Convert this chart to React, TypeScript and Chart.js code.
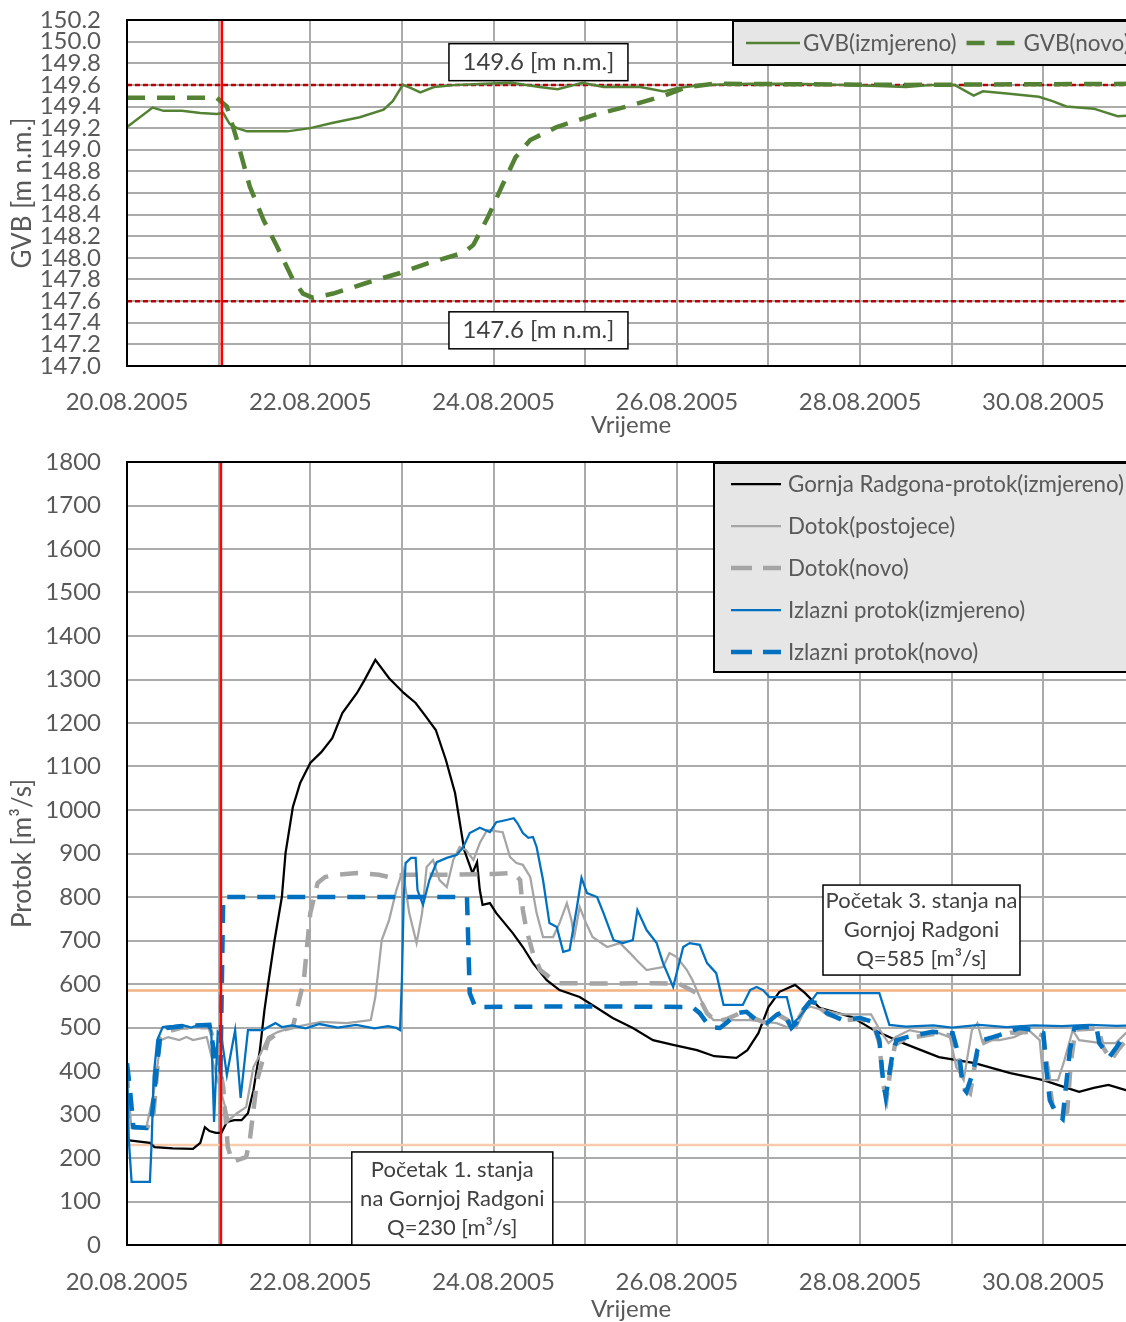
import React, { useEffect, useRef } from 'react';
import { Chart, registerables } from 'chart.js';

Chart.register(...registerables);

const FONT = 'Lato';
const TICK_COLOR = '#595959';
const NOTE_COLOR = '#404040';
const GRID_COLOR = '#ABABAB';

// ---------- labels ----------
const dateLabels = ['20.08.2005', '22.08.2005', '24.08.2005', '26.08.2005', '28.08.2005', '30.08.2005'];
const xTitle = 'Vrijeme';
const gvbTitle = 'GVB [m n.m.]';
const flowTitle = 'Protok [m³/s]';

// ---------- reference values ----------
const eventDay = 1.035; // red vertical marker (days after 20.08.2005)
const gvbLimits = [149.6, 147.6];
const gvbLimitNotes = ['149.6 [m n.m.]', '147.6 [m n.m.]'];
const stateFlows = [585, 230];
const stateNote1 = ['Početak 1. stanja', 'na Gornjoj Radgoni', 'Q=230 [m³/s]'];
const stateNote3 = ['Početak 3. stanja na', 'Gornjoj Radgoni', 'Q=585 [m³/s]'];

// ---------- top chart: GVB ----------
const gvbMeasDays = [0, 0.28, 0.4, 0.6, 0.8, 0.98, 1.05, 1.12, 1.2, 1.31, 1.5, 1.75, 2.0, 2.25, 2.54, 2.8, 2.9, 3.01, 3.1, 3.2, 3.35, 3.6, 3.9, 4.2, 4.5, 4.7, 4.97, 5.2, 5.6, 5.86, 6.0, 6.3, 6.8, 7.3, 7.8, 8.2, 8.5, 8.8, 9.03, 9.24, 9.34, 9.6, 9.95, 10.1, 10.25, 10.55, 10.81, 11.0];
const gvbMeasVals = [149.21, 149.39, 149.36, 149.36, 149.34, 149.33, 149.34, 149.24, 149.2, 149.17, 149.17, 149.17, 149.2, 149.25, 149.3, 149.37, 149.45, 149.6, 149.57, 149.53, 149.58, 149.6, 149.61, 149.62, 149.58, 149.56, 149.62, 149.58, 149.58, 149.54, 149.57, 149.6, 149.61, 149.61, 149.6, 149.59, 149.58, 149.6, 149.6, 149.5, 149.54, 149.52, 149.49, 149.45, 149.4, 149.38, 149.31, 149.32];

const gvbNewDays = [0, 0.98, 1.09, 1.2, 1.34, 1.49, 1.64, 1.81, 1.92, 2.03, 2.25, 2.62, 2.98, 3.28, 3.68, 3.78, 3.94, 4.09, 4.24, 4.4, 4.69, 5.09, 5.5, 5.86, 6.11, 6.4, 8.5, 11.0];
const gvbNewVals = [149.48, 149.48, 149.4, 149.09, 148.66, 148.35, 148.1, 147.8, 147.67, 147.63, 147.67, 147.77, 147.86, 147.95, 148.05, 148.12, 148.38, 148.66, 148.93, 149.09, 149.21, 149.32, 149.41, 149.5, 149.58, 149.61, 149.6, 149.61];

// ---------- bottom chart: flows ----------
const radgonaDays = [0, 0.25, 0.3, 0.5, 0.72, 0.8, 0.85, 0.9, 0.97, 1.03, 1.09, 1.17, 1.25, 1.32, 1.38, 1.45, 1.5, 1.54, 1.61, 1.69, 1.73, 1.81, 1.89, 2.0, 2.12, 2.24, 2.35, 2.51, 2.59, 2.71, 2.86, 3.02, 3.15, 3.25, 3.37, 3.48, 3.58, 3.68, 3.77, 3.82, 3.85, 3.88, 3.96, 4.03, 4.21, 4.32, 4.43, 4.58, 4.72, 4.94, 5.13, 5.3, 5.52, 5.74, 5.96, 6.22, 6.41, 6.65, 6.77, 6.89, 7.0, 7.12, 7.29, 7.4, 7.56, 7.76, 7.91, 8.15, 8.47, 8.86, 9.25, 9.64, 10.0, 10.23, 10.39, 10.55, 10.71, 10.9, 11.0];
const radgonaVals = [241, 235, 225, 222, 221, 235, 271, 262, 258, 258, 283, 287, 287, 303, 356, 448, 540, 600, 700, 800, 901, 1007, 1062, 1108, 1133, 1165, 1223, 1269, 1298, 1345, 1303, 1269, 1246, 1218, 1184, 1115, 1039, 908, 855, 880, 816, 782, 786, 763, 717, 685, 648, 609, 586, 570, 545, 522, 499, 471, 460, 448, 434, 430, 448, 487, 547, 582, 598, 579, 545, 533, 524, 494, 464, 432, 418, 395, 379, 363, 352, 361, 368, 356, 352];

const inflowDays = [0, 0.05, 0.21, 0.29, 0.37, 0.45, 0.57, 0.65, 0.72, 0.87, 0.95, 1.03, 1.11, 1.2, 1.3, 1.38, 1.46, 1.54, 1.65, 1.8, 2.12, 2.4, 2.66, 2.71, 2.78, 2.86, 2.94, 3.01, 3.08, 3.16, 3.22, 3.27, 3.34, 3.41, 3.49, 3.56, 3.63, 3.7, 3.78, 3.85, 3.93, 4.1, 4.18, 4.25, 4.32, 4.4, 4.47, 4.54, 4.65, 4.72, 4.8, 4.85, 4.88, 4.94, 5.01, 5.08, 5.24, 5.38, 5.49, 5.56, 5.67, 5.85, 5.92, 6.0, 6.11, 6.17, 6.25, 6.33, 6.4, 6.55, 6.69, 6.8, 7.09, 7.2, 7.3, 7.42, 7.6, 7.8, 8.0, 8.12, 8.2, 8.31, 8.39, 8.54, 8.7, 8.86, 8.98, 9.05, 9.13, 9.22, 9.28, 9.33, 9.52, 9.68, 9.84, 9.96, 10.0, 10.16, 10.23, 10.32, 10.39, 10.63, 10.79, 10.9, 11.0];
const inflowVals = [363, 269, 269, 349, 471, 478, 471, 478, 471, 478, 409, 349, 287, 303, 317, 409, 441, 478, 490, 500, 513, 510, 517, 570, 701, 747, 816, 862, 763, 694, 763, 869, 885, 839, 823, 885, 915, 908, 885, 924, 954, 949, 892, 878, 874, 846, 763, 708, 708, 740, 786, 747, 708, 777, 740, 708, 685, 694, 671, 655, 632, 639, 671, 662, 632, 609, 570, 533, 517, 517, 517, 517, 510, 501, 499, 550, 540, 530, 530, 530, 500, 464, 478, 494, 487, 487, 478, 409, 379, 494, 510, 471, 471, 478, 494, 471, 379, 379, 425, 494, 471, 464, 464, 487, 480];

const inflowNewDays = [0, 0.03, 0.22, 0.29, 0.36, 0.43, 0.6, 0.9, 0.98, 1.05, 1.1, 1.15, 1.3, 1.34, 1.42, 1.54, 1.69, 1.81, 1.93, 2.0, 2.08, 2.16, 2.28, 2.51, 2.75, 2.86, 3.02, 3.5, 4.0, 4.22, 4.29, 4.32, 4.36, 4.43, 4.51, 4.65, 4.72, 5.2, 5.74, 6.03, 6.22, 6.33, 6.43, 6.55, 6.69, 6.8, 6.95, 7.1, 7.2, 7.28, 7.4, 7.5, 7.65, 7.85, 8.0, 8.14, 8.21, 8.25, 8.29, 8.33, 8.38, 8.5, 8.8, 9.01, 9.08, 9.14, 9.2, 9.25, 9.3, 9.45, 9.65, 9.9, 10.0, 10.05, 10.1, 10.2, 10.26, 10.3, 10.35, 10.6, 10.65, 10.74, 10.82, 10.9, 11.0];
const inflowNewVals = [402, 271, 269, 303, 478, 490, 500, 501, 448, 363, 225, 191, 202, 241, 379, 471, 494, 501, 609, 763, 832, 846, 851, 855, 851, 846, 851, 851, 853, 855, 839, 770, 724, 671, 632, 609, 602, 601, 602, 600, 579, 533, 513, 520, 533, 525, 512, 530, 518, 505, 545, 555, 530, 517, 520, 510, 465, 370, 338, 400, 460, 475, 485, 482, 420, 360, 349, 410, 460, 475, 488, 490, 480, 400, 320, 295, 306, 420, 495, 498, 455, 425, 450, 470, 480];

const outflowDays = [0, 0.02, 0.05, 0.25, 0.27, 0.29, 0.33, 0.39, 0.5, 0.6, 0.7, 0.8, 0.89, 0.92, 0.95, 0.99, 1.03, 1.09, 1.18, 1.24, 1.32, 1.48, 1.62, 1.69, 1.8, 1.95, 2.1, 2.3, 2.5, 2.7, 2.85, 2.94, 2.98, 3.0, 3.02, 3.04, 3.1, 3.15, 3.17, 3.23, 3.3, 3.38, 3.49, 3.6, 3.67, 3.74, 3.85, 3.96, 4.03, 4.14, 4.22, 4.26, 4.32, 4.38, 4.43, 4.47, 4.54, 4.61, 4.69, 4.76, 4.83, 4.91, 4.96, 5.02, 5.13, 5.2, 5.31, 5.41, 5.52, 5.57, 5.67, 5.78, 5.85, 5.96, 6.07, 6.14, 6.25, 6.33, 6.43, 6.51, 6.72, 6.8, 6.87, 6.94, 7.01, 7.2, 7.27, 7.34, 7.42, 7.53, 7.7, 8.0, 8.21, 8.32, 8.5, 8.8, 9.0, 9.3, 9.6, 9.9, 10.2, 10.5, 10.8, 11.0];
const outflowVals = [409, 241, 145, 145, 241, 386, 471, 501, 503, 506, 500, 507, 506, 490, 283, 490, 480, 391, 494, 338, 494, 494, 510, 501, 505, 498, 508, 500, 506, 498, 503, 499, 494, 609, 800, 878, 890, 890, 816, 782, 839, 880, 890, 897, 915, 947, 959, 949, 972, 977, 981, 970, 947, 936, 938, 915, 839, 740, 731, 674, 678, 777, 844, 809, 800, 763, 701, 694, 701, 770, 724, 694, 648, 593, 685, 694, 690, 648, 625, 552, 552, 586, 593, 586, 570, 570, 510, 524, 547, 579, 579, 579, 579, 506, 502, 505, 500, 506, 501, 505, 503, 506, 504, 505];

const outflowNewDays = [0, 0.03, 0.05, 0.07, 0.21, 0.27, 0.36, 0.43, 0.6, 0.9, 0.93, 0.97, 1.02, 1.05, 3.71, 3.74, 3.8, 4.5, 5.5, 6.17, 6.25, 6.36, 6.47, 6.55, 6.65, 6.76, 6.87, 6.98, 7.09, 7.16, 7.25, 7.3, 7.38, 7.45, 7.53, 7.64, 7.81, 8.0, 8.14, 8.21, 8.25, 8.28, 8.32, 8.36, 8.4, 8.51, 8.79, 9.01, 9.09, 9.12, 9.16, 9.23, 9.28, 9.34, 9.45, 9.63, 9.74, 9.89, 10.0, 10.03, 10.07, 10.14, 10.21, 10.25, 10.29, 10.34, 10.43, 10.58, 10.61, 10.72, 10.8, 10.87, 11.0];
const outflowNewVals = [418, 363, 317, 271, 269, 294, 478, 499, 503, 506, 470, 420, 400, 800, 800, 579, 547, 548, 548, 547, 533, 501, 499, 512, 533, 536, 517, 510, 529, 536, 499, 510, 540, 559, 556, 533, 517, 522, 513, 471, 379, 340, 395, 448, 471, 478, 490, 487, 425, 363, 352, 395, 448, 471, 478, 490, 499, 494, 487, 409, 333, 303, 290, 372, 448, 499, 501, 501, 464, 432, 455, 478, 490];

// ---------- helpers ----------
const pts = (xs: number[], ys: number[]) => xs.map((x, i) => ({ x, y: ys[i] }));
const X_MIN = 0;
const X_MAX = 11;

type Note = { x: number; y: number; w: number; h: number; lines: string[]; size: number; lineH: number };
type LegendCfg = { x: number; y: number; w: number; h: number; sx: number; sy: number; sample: number; gap: number; itemGap: number; rowH: number; row: boolean; size: number };

const decorPlugin = {
  id: 'decor',
  afterDraw(chart: any) {
    const { ctx, chartArea: a } = chart;
    const opts = chart.options.plugins.decor || {};
    ctx.save();
    // plot frame
    ctx.strokeStyle = '#000';
    ctx.lineWidth = 2;
    ctx.strokeRect(a.left, a.top, a.right - a.left, a.bottom - a.top);
    // notes
    (opts.notes || []).forEach((n: Note) => {
      const cx = chart.scales.x.getPixelForValue(n.x);
      const cy = chart.scales.y.getPixelForValue(n.y);
      ctx.fillStyle = '#ffffff';
      ctx.fillRect(cx - n.w / 2, cy - n.h / 2, n.w, n.h);
      ctx.strokeStyle = '#000';
      ctx.lineWidth = 1.5;
      ctx.strokeRect(cx - n.w / 2, cy - n.h / 2, n.w, n.h);
      ctx.fillStyle = NOTE_COLOR;
      ctx.font = `${n.size}px ${FONT}`;
      ctx.textAlign = 'center';
      ctx.textBaseline = 'middle';
      const y0 = cy - ((n.lines.length - 1) * n.lineH) / 2;
      n.lines.forEach((t, i) => ctx.fillText(t, cx, y0 + i * n.lineH));
    });
    // legend
    const lg: LegendCfg | undefined = opts.legend;
    if (lg) {
      ctx.fillStyle = '#E7E6E6';
      ctx.fillRect(lg.x, lg.y, lg.w, lg.h);
      ctx.strokeStyle = '#000';
      ctx.lineWidth = 2;
      ctx.strokeRect(lg.x, lg.y, lg.w, lg.h);
      ctx.font = `${lg.size}px ${FONT}`;
      ctx.textAlign = 'left';
      ctx.textBaseline = 'middle';
      let x = lg.sx;
      let y = lg.sy;
      chart.data.datasets.filter((d: any) => d.inLegend).forEach((d: any) => {
        ctx.strokeStyle = d.borderColor;
        ctx.lineWidth = d.borderWidth;
        ctx.setLineDash(d.legendDash || d.borderDash || []);
        ctx.beginPath();
        ctx.moveTo(x, y);
        ctx.lineTo(x + lg.sample, y);
        ctx.stroke();
        ctx.setLineDash([]);
        ctx.fillStyle = TICK_COLOR;
        ctx.fillText(d.label, x + lg.sample + lg.gap, y + 1);
        if (lg.row) x += lg.sample + lg.gap + ctx.measureText(d.label).width + lg.itemGap;
        else y += lg.rowH;
      });
    }
    ctx.restore();
  },
};

const xScale = (height: number, tickPad: number, titleBottom: number) => ({
  type: 'linear',
  min: X_MIN,
  max: X_MAX,
  afterFit: (s: any) => {
    s.height = height;
    s.paddingLeft = 0;
    s.paddingRight = 0;
  },
  ticks: {
    stepSize: 1,
    autoSkip: false,
    maxRotation: 0,
    minRotation: 0,
    padding: tickPad,
    color: TICK_COLOR,
    font: { family: FONT, size: 24 },
    callback: (v: number) => (v % 2 === 0 && v / 2 < dateLabels.length ? dateLabels[v / 2] : ''),
  },
  grid: { color: GRID_COLOR, lineWidth: 2, drawTicks: false },
  border: { display: false },
  title: {
    display: true,
    text: xTitle,
    color: TICK_COLOR,
    font: { family: FONT, size: 24 },
    padding: { top: 0, bottom: titleBottom },
  },
});

const yScale = (min: number, max: number, step: number, fmt: (v: number) => string, title: string) => ({
  type: 'linear',
  min,
  max,
  afterFit: (s: any) => {
    s.width = 127;
    s.paddingTop = 0;
    s.paddingBottom = 0;
  },
  ticks: {
    stepSize: step,
    autoSkip: false,
    padding: 26,
    color: TICK_COLOR,
    font: { family: FONT, size: 24 },
    callback: (v: number) => fmt(Number(v)),
  },
  grid: { color: GRID_COLOR, lineWidth: 2, drawTicks: false },
  border: { display: false },
  title: {
    display: true,
    text: title,
    color: TICK_COLOR,
    font: { family: FONT, size: 26 },
    padding: { top: 7, bottom: 0 },
  },
});

const lineDs = (label: string, data: any[], color: string, width: number, extra: any = {}) => ({
  label,
  data,
  borderColor: color,
  backgroundColor: color,
  borderWidth: width,
  pointRadius: 0,
  tension: 0,
  fill: false,
  ...extra,
});

function topConfig(): any {
  return {
    type: 'line',
    data: {
      datasets: [
        lineDs('marker', [{ x: eventDay, y: 147.0 }, { x: eventDay, y: 150.2 }], '#FF0000', 2.5, { order: 0 }),
        lineDs('GVB(izmjereno)', pts(gvbMeasDays, gvbMeasVals), '#548235', 2.5, { order: 2, inLegend: true }),
        lineDs('GVB(novo)', pts(gvbNewDays, gvbNewVals), '#548235', 4.5, { order: 1, inLegend: true, borderDash: [18, 12] }),
        lineDs('limitTop', [{ x: X_MIN, y: gvbLimits[0] }, { x: X_MAX, y: gvbLimits[0] }], '#C00000', 2.5, { order: 3, borderDash: [5, 3] }),
        lineDs('limitBottom', [{ x: X_MIN, y: gvbLimits[1] }, { x: X_MAX, y: gvbLimits[1] }], '#C00000', 2.5, { order: 3, borderDash: [5, 3] }),
      ],
    },
    options: {
      responsive: false,
      animation: false,
      devicePixelRatio: 1,
      layout: { padding: { left: 0, top: 20, right: 15, bottom: 0 } },
      scales: {
        x: xScale(74, 22, 0),
        y: yScale(147.0, 150.2, 0.2, (v) => v.toFixed(1), gvbTitle),
      },
      plugins: {
        legend: { display: false },
        tooltip: { enabled: false },
        decor: {
          notes: [
            { x: 4.49, y: 149.81, w: 179, h: 37, lines: [gvbLimitNotes[0]], size: 24, lineH: 28 },
            { x: 4.49, y: 147.33, w: 179, h: 37, lines: [gvbLimitNotes[1]], size: 24, lineH: 28 },
          ],
          legend: { x: 733, y: 21, w: 420, h: 44, sx: 746, sy: 43, sample: 54, gap: 3, itemGap: 10, rowH: 0, row: true, size: 22.5 },
        },
      },
    },
    plugins: [decorPlugin],
  };
}

function bottomConfig(): any {
  return {
    type: 'line',
    data: {
      datasets: [
        lineDs('marker', [{ x: eventDay - 0.01, y: 0 }, { x: eventDay - 0.01, y: 1800 }], '#FF0000', 2.5, { order: 0 }),
        lineDs('Gornja Radgona-protok(izmjereno)', pts(radgonaDays, radgonaVals), '#000000', 2.25, { order: 5, inLegend: true }),
        lineDs('Dotok(postojece)', pts(inflowDays, inflowVals), '#A5A5A5', 2.25, { order: 4, inLegend: true }),
        lineDs('Dotok(novo)', pts(inflowNewDays, inflowNewVals), '#A5A5A5', 4.5, { order: 3, inLegend: true, borderDash: [18, 12], legendDash: [21, 11] }),
        lineDs('Izlazni protok(izmjereno)', pts(outflowDays, outflowVals), '#0070C0', 2.25, { order: 2, inLegend: true }),
        lineDs('Izlazni protok(novo)', pts(outflowNewDays, outflowNewVals), '#0070C0', 4.5, { order: 1, inLegend: true, borderDash: [18, 12], legendDash: [21, 11] }),
        lineDs('state3', [{ x: X_MIN, y: stateFlows[0] }, { x: X_MAX, y: stateFlows[0] }], '#F4B183', 2.5, { order: 6 }),
        lineDs('state1', [{ x: X_MIN, y: stateFlows[1] }, { x: X_MAX, y: stateFlows[1] }], '#F8CBAD', 2.5, { order: 6 }),
      ],
    },
    options: {
      responsive: false,
      animation: false,
      devicePixelRatio: 1,
      layout: { padding: { left: 0, top: 22, right: 15, bottom: 0 } },
      scales: {
        x: xScale(85, 23, 6),
        y: yScale(0, 1800, 100, (v) => String(Math.round(v)), flowTitle),
      },
      plugins: {
        legend: { display: false },
        tooltip: { enabled: false },
        decor: {
          notes: [
            { x: 3.55, y: 107, w: 201, h: 93, lines: stateNote1, size: 22, lineH: 29 },
            { x: 8.67, y: 724, w: 197, h: 90, lines: stateNote3, size: 22, lineH: 29 },
          ],
          legend: { x: 714, y: 23, w: 440, h: 209, sx: 731, sy: 44, sample: 50, gap: 7, itemGap: 0, rowH: 42, row: false, size: 22.3 },
        },
      },
    },
    plugins: [decorPlugin],
  };
}

export default function App() {
  const topRef = useRef<HTMLCanvasElement | null>(null);
  const bottomRef = useRef<HTMLCanvasElement | null>(null);

  useEffect(() => {
    const c1 = new Chart(topRef.current as HTMLCanvasElement, topConfig());
    const c2 = new Chart(bottomRef.current as HTMLCanvasElement, bottomConfig());
    return () => {
      c1.destroy();
      c2.destroy();
    };
  }, []);

  return (
    <div style={{ position: 'fixed', left: 0, top: 0, width: 1126, height: 1322, overflow: 'hidden', background: '#ffffff' }}>
      <canvas ref={topRef} width={1150} height={440} style={{ position: 'absolute', left: 0, top: 0, width: 1150, height: 440 }} />
      <canvas ref={bottomRef} width={1150} height={890} style={{ position: 'absolute', left: 0, top: 440, width: 1150, height: 890 }} />
    </div>
  );
}
